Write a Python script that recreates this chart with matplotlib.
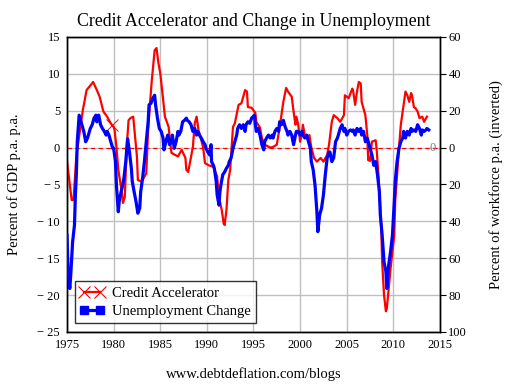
"""Credit Accelerator vs change in unemployment (Mathcad-style chart)."""

import matplotlib
matplotlib.use("Agg")
import matplotlib.pyplot as plt
from matplotlib.lines import Line2D

plt.rcParams["font.family"] = ["Liberation Serif", "DejaVu Serif"]

# Credit accelerator, percent of GDP p.a. p.a. (left axis)
credit_years = [
    1975.0, 1975.5, 1975.7, 1976.0, 1976.4, 1976.7, 1977.1, 1977.8, 1978.2, 1978.5,
    1978.9, 1979.3, 1979.6, 1979.8, 1980.0, 1980.1, 1980.3, 1980.5, 1980.9, 1981.0,
    1981.2, 1981.4, 1981.6, 1981.8, 1982.1, 1982.5, 1982.6, 1983.0, 1983.5, 1983.7,
    1983.9, 1984.1, 1984.4, 1984.6, 1984.8, 1985.0, 1985.2, 1985.5, 1985.9, 1986.0,
    1986.2, 1986.6, 1986.9, 1987.3, 1987.7, 1987.8, 1988.0, 1988.5, 1988.7, 1988.9,
    1989.1, 1989.3, 1989.6, 1989.8, 1990.2, 1990.7, 1991.1, 1991.3, 1991.6, 1991.8,
    1991.9, 1992.1, 1992.3, 1992.5, 1992.8, 1993.0, 1993.4, 1993.7, 1994.1, 1994.3,
    1994.4, 1994.8, 1995.2, 1995.3, 1995.7, 1995.9, 1996.2, 1996.8, 1997.1, 1997.5,
    1997.8, 1998.0, 1998.2, 1998.5, 1998.7, 1999.1, 1999.3, 1999.5, 1999.6, 1999.8,
    2000.0, 2000.2, 2000.3, 2000.5, 2000.7, 2001.0, 2001.2, 2001.5, 2001.8, 2002.2,
    2002.5, 2002.9, 2003.1, 2003.4, 2003.6, 2004.0, 2004.3, 2004.7, 2004.8, 2005.2,
    2005.6, 2005.7, 2005.9, 2006.1, 2006.3, 2006.5, 2006.6, 2006.8, 2007.0, 2007.2,
    2007.3, 2007.5, 2007.7, 2008.1, 2008.2, 2008.4, 2008.6, 2008.7, 2008.8, 2009.0,
    2009.2, 2009.3, 2009.5, 2009.7, 2009.9, 2010.1, 2010.2, 2010.4, 2010.6, 2010.8,
    2011.0, 2011.1, 2011.3, 2011.5, 2011.7, 2011.9, 2012.0, 2012.2, 2012.4, 2012.6,
    2012.8, 2013.1, 2013.3, 2013.6,
]
credit_accel = [
    -1.9, -7.1, -7.1, -1.2, 2.4, 5.1, 7.8, 8.9, 7.8, 6.9,
    4.9, 4.2, 3.5, 3.1, 2.8, 2.4, 0.1, -3.0, -6.2, -7.5,
    -6.7, 0.0, 3.7, 4.0, 4.2, -1.2, -4.4, -4.6, -3.5, 2.4,
    6.0, 9.2, 13.2, 13.5, 11.5, 10.1, 7.8, 4.2, 2.8, 1.5,
    -0.7, -1.0, -1.2, -0.3, -1.4, -3.0, -3.3, 0.1, 3.3, 4.2,
    2.4, 1.5, 0.0, -2.1, -2.4, -2.6, -3.9, -6.7, -8.5, -10.3,
    -10.5, -8.5, -4.4, -3.0, 2.8, 3.3, 5.8, 6.0, 7.8, 7.6,
    5.5, 5.4, 4.7, 3.5, 2.7, 1.3, 0.4, 0.0, 0.1, 0.4,
    2.7, 4.4, 6.2, 8.1, 7.6, 6.9, 4.9, 3.1, 4.2, 3.1,
    0.8, 2.0, 3.1, 1.7, 1.3, 1.7, 0.0, -1.4, -1.9, -1.4,
    -1.9, -1.0, 0.4, 3.5, 4.4, 4.0, 3.5, 4.4, 7.1, 6.7,
    8.0, 7.6, 5.8, 7.6, 8.9, 8.7, 6.2, 5.3, 4.4, 1.7,
    -1.7, -1.8, 0.8, 1.0, -0.1, -3.7, -8.2, -10.9, -15.5, -20.0,
    -22.2, -21.8, -19.1, -16.4, -14.1, -11.9, -7.3, -3.7, -0.1, 3.1,
    4.9, 5.8, 7.6, 7.1, 6.2, 7.4, 7.1, 5.5, 5.3, 4.9,
    4.0, 4.2, 3.5, 4.2,
]

# Change in unemployment, percent of workforce p.a. (right axis, inverted)
unemp_years = [
    1975.0, 1975.1, 1975.3, 1975.4, 1975.6, 1975.8, 1975.9, 1976.0, 1976.1, 1976.3,
    1976.5, 1976.6, 1976.8, 1977.0, 1977.2, 1977.4, 1977.5, 1977.7, 1977.9, 1978.1,
    1978.2, 1978.4, 1978.6, 1978.8, 1979.0, 1979.2, 1979.3, 1979.5, 1979.7, 1979.9,
    1980.0, 1980.2, 1980.3, 1980.5, 1980.6, 1980.8, 1980.9, 1981.1, 1981.3, 1981.5,
    1981.7, 1981.9, 1982.0, 1982.2, 1982.4, 1982.6, 1982.8, 1982.9, 1983.1, 1983.3,
    1983.5, 1983.7, 1983.8, 1984.0, 1984.2, 1984.4, 1984.5, 1984.7, 1984.9, 1985.1,
    1985.3, 1985.4, 1985.6, 1985.8, 1986.0, 1986.2, 1986.3, 1986.5, 1986.7, 1986.9,
    1987.0, 1987.2, 1987.4, 1987.6, 1987.8, 1987.9, 1988.1, 1988.3, 1988.5, 1988.7,
    1988.9, 1989.0, 1989.2, 1989.4, 1989.6, 1989.8, 1989.9, 1990.1, 1990.3, 1990.45,
    1990.5, 1990.7, 1990.8, 1991.0, 1991.1, 1991.3, 1991.4, 1991.5, 1991.7, 1991.9,
    1992.1, 1992.3, 1992.4, 1992.6, 1992.8, 1993.0, 1993.2, 1993.3, 1993.5, 1993.7,
    1993.9, 1994.1, 1994.2, 1994.4, 1994.6, 1994.8, 1995.1, 1995.2, 1995.3, 1995.5,
    1995.7, 1995.9, 1996.1, 1996.2, 1996.4, 1996.6, 1996.8, 1997.0, 1997.1, 1997.3,
    1997.5, 1997.7, 1997.8, 1998.0, 1998.2, 1998.4, 1998.6, 1998.7, 1998.9, 1999.1,
    1999.3, 1999.5, 1999.6, 1999.8, 2000.0, 2000.2, 2000.3, 2000.5, 2000.7, 2000.9,
    2001.1, 2001.2, 2001.4, 2001.6, 2001.8, 2001.9, 2002.1, 2002.3, 2002.5, 2002.7,
    2002.9, 2003.1, 2003.2, 2003.4, 2003.6, 2003.8, 2004.0, 2004.1, 2004.3, 2004.5,
    2004.7, 2004.8, 2005.0, 2005.2, 2005.4, 2005.6, 2005.7, 2005.9, 2006.1, 2006.3,
    2006.5, 2006.6, 2006.8, 2007.0, 2007.2, 2007.4, 2007.5, 2007.7, 2007.9, 2008.1,
    2008.3, 2008.5, 2008.6, 2008.8, 2009.0, 2009.2, 2009.3, 2009.4, 2009.5, 2009.7,
    2009.9, 2010.1, 2010.2, 2010.4, 2010.6, 2010.8, 2011.0, 2011.1, 2011.3, 2011.5,
    2011.7, 2011.9, 2012.0, 2012.2, 2012.4, 2012.6, 2012.8, 2013.0, 2013.1, 2013.3,
    2013.5, 2013.6, 2013.8,
]
unemp_change = [
    47.6, 65.2, 76.4, 69.2, 51.2, 42.0, 25.6, 14.8, -3.2, -17.6,
    -14.0, -12.4, -8.8, -3.2, -5.2, -8.8, -10.4, -12.4, -16.0, -17.6,
    -14.0, -17.6, -12.4, -10.4, -8.8, -6.8, -8.8, -6.8, -3.2, 0.4,
    0.4, 7.6, 20.4, 34.8, 29.2, 24.0, 22.0, 16.8, 7.6, -4.8,
    2.4, 11.2, 18.4, 24.0, 29.2, 35.6, 32.8, 24.0, 16.8, 7.6,
    -3.2, -14.0, -23.2, -24.0, -26.8, -28.4, -23.2, -16.0, -10.4, -8.8,
    -5.2, 1.2, -3.2, -6.8, -1.6, -3.2, -6.8, 0.4, -3.2, -8.8,
    -6.8, -8.8, -14.0, -14.8, -16.0, -14.8, -14.0, -12.4, -8.8, -10.4,
    -6.8, -8.8, -6.8, -5.2, -3.2, -1.6, 0.4, 2.4, 4.0, -1.6,
    7.6, 9.6, 11.2, 18.4, 25.6, 31.2, 24.0, 20.4, 14.8, 13.2,
    11.2, 9.6, 7.6, 5.6, 0.4, -3.2, -6.8, -10.4, -12.4, -10.4,
    -12.4, -8.8, -12.4, -14.0, -13.2, -16.0, -17.6, -12.4, -8.8, -10.4,
    -6.8, -1.6, 1.2, -3.2, -5.2, -6.8, -5.2, -6.8, -5.2, -8.8,
    -10.4, -8.8, -14.0, -12.4, -14.8, -11.2, -8.8, -6.8, -8.8, -6.8,
    -1.6, -6.8, -8.8, -8.8, -6.8, -8.8, -6.8, -5.2, -6.8, -3.2,
    0.4, 7.6, 12.0, 20.4, 34.8, 45.6, 36.4, 32.8, 25.6, 14.8,
    5.6, 2.4, 2.4, 7.6, 5.6, -3.2, -5.2, -6.8, -10.4, -12.4,
    -8.8, -10.4, -6.8, -8.8, -9.6, -8.8, -9.6, -6.8, -10.4, -8.8,
    -10.4, -6.8, -8.8, -3.2, -5.2, -1.6, 0.4, 4.0, 9.6, 7.6,
    14.8, 24.0, 36.4, 47.6, 62.0, 67.2, 76.4, 69.2, 63.6, 56.4,
    47.6, 29.2, 18.4, 7.6, 0.4, -3.2, -5.2, -8.8, -5.2, -8.8,
    -6.8, -10.4, -8.8, -9.6, -8.8, -12.4, -10.4, -6.8, -9.6, -8.8,
    -9.6, -10.4, -9.6,
]

x_ticks = [1975, 1980, 1985, 1990, 1995, 2000, 2005, 2010, 2015]
left_ticks = [15, 10, 5, 0, -5, -10, -15, -20, -25]
right_ticks = [-60, -40, -20, 0, 20, 40, 60, 80, 100]

RED = "#ff0000"
BLUE = "#0000ff"
GRID = "#c0c0c0"


def signed(v):
    return f"\u2212 {abs(v)}" if v < 0 else str(v)


fig = plt.figure(figsize=(5.08, 3.85), dpi=100)
ax = fig.add_axes([0.1319, 0.1377, 0.7342, 0.7662])
ax2 = ax.twinx()

ax.set_xlim(1975, 2015)
ax.set_ylim(-25, 15)
ax2.set_ylim(100, -60)

ax.set_xticks(x_ticks)
ax.set_xticklabels([str(t) for t in x_ticks])
ax.set_yticks(left_ticks)
ax.set_yticklabels([signed(t) for t in left_ticks])
ax2.set_yticks(right_ticks)
ax2.set_yticklabels([str(abs(t)) for t in right_ticks])

ax.grid(True, color=GRID, linewidth=1.0)
ax.set_axisbelow(True)
ax.tick_params(axis="both", length=0, labelsize=9, pad=5)
ax2.tick_params(axis="y", length=4, width=0.8, direction="out",
                labelsize=9, pad=2)
for sp in list(ax.spines.values()) + list(ax2.spines.values()):
    sp.set_linewidth(1.0)

ax.axhline(0, color=RED, linestyle=(0, (4, 3)), linewidth=0.8, zorder=1)

mark_idx = credit_years.index(1979.8)
ax.plot(credit_years, credit_accel, color=RED, linewidth=1.6,
        marker="x", markevery=[mark_idx],
        markersize=8, markeredgewidth=0.7, zorder=3)
ax2.plot(unemp_years, unemp_change, color=BLUE, linewidth=2.3, zorder=3)

ax2.text(2014.6, 0, "0", color="#808080", fontsize=9,
         ha="right", va="center")

ax.set_ylabel("Percent of GDP p.a. p.a.", fontsize=10.5, labelpad=12)
ax2.set_ylabel("Percent of workforce p.a. (inverted)", fontsize=10.5,
               labelpad=16)
ax.set_title("Credit Accelerator and Change in Unemployment",
             fontsize=12.8, pad=8)
fig.text(0.5, 0.028, "www.debtdeflation.com/blogs", ha="center",
         va="center", fontsize=10.5)

handles = [
    Line2D([], [], color=RED, linewidth=1.6, marker="x", markersize=8,
           markeredgewidth=0.8),
    Line2D([], [], color=BLUE, linewidth=2.3, marker="s", markersize=6),
]
leg = ax2.legend(handles, ["Credit Accelerator", "Unemployment Change"],
                 loc="lower left", bbox_to_anchor=(0.021, 0.03),
                 numpoints=2, handlelength=1.7, handletextpad=0.5,
                 fontsize=10.5, frameon=True, fancybox=False,
                 borderpad=0.35, labelspacing=0.35, borderaxespad=0)
leg.get_frame().set_edgecolor("black")
leg.get_frame().set_linewidth(1.0)

fig.savefig("out.png", dpi=100)
